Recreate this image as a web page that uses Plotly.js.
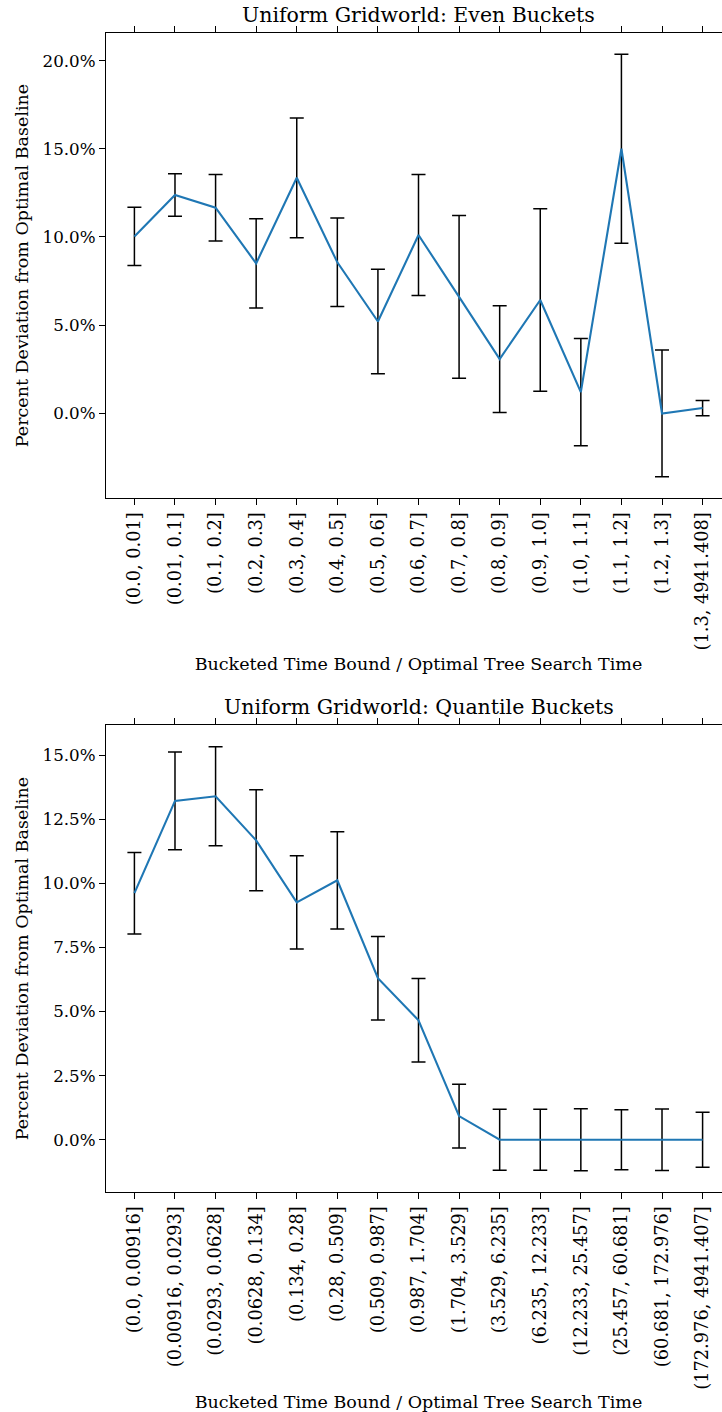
<!DOCTYPE html>
<html>
<head>
<meta charset="utf-8">
<script src="https://cdn.plot.ly/plotly-3.0.1.min.js"></script>
<style>
html, body { margin: 0; padding: 0; overflow: hidden; background: #fff; }
#chart { width: 760px; height: 1412px; }
</style>
</head>
<body>
<div id="chart"></div>
<script>
// ---- Data ----
const evenBuckets = ["(0.0, 0.01]", "(0.01, 0.1]", "(0.1, 0.2]", "(0.2, 0.3]", "(0.3, 0.4]",
  "(0.4, 0.5]", "(0.5, 0.6]", "(0.6, 0.7]", "(0.7, 0.8]", "(0.8, 0.9]", "(0.9, 1.0]",
  "(1.0, 1.1]", "(1.1, 1.2]", "(1.2, 1.3]", "(1.3, 4941.408]"];
const evenValues = [10.03, 12.38, 11.66, 8.5, 13.36, 8.56, 5.2, 10.11, 6.6, 3.07, 6.42, 1.19, 15.01, -0.02, 0.285];
const evenErrors = [1.65, 1.21, 1.89, 2.53, 3.40, 2.51, 2.97, 3.44, 4.62, 3.03, 5.18, 3.05, 5.37, 3.6, 0.435];

const quantileBuckets = ["(0.0, 0.00916]", "(0.00916, 0.0293]", "(0.0293, 0.0628]", "(0.0628, 0.134]",
  "(0.134, 0.28]", "(0.28, 0.509]", "(0.509, 0.987]", "(0.987, 1.704]", "(1.704, 3.529]",
  "(3.529, 6.235]", "(6.235, 12.233]", "(12.233, 25.457]", "(25.457, 60.681]",
  "(60.681, 172.976]", "(172.976, 4941.407]"];
const quantileValues = [9.62, 13.22, 13.4, 11.68, 9.26, 10.12, 6.3, 4.66, 0.92, 0, 0, 0, 0, 0, 0];
const quantileErrors = [1.59, 1.91, 1.93, 1.97, 1.82, 1.9, 1.63, 1.63, 1.24, 1.19, 1.19, 1.21, 1.17, 1.2, 1.07];

const chartTitles = ["Uniform Gridworld: Even Buckets", "Uniform Gridworld: Quantile Buckets"];
const xTitle = "Bucketed Time Bound / Optimal Tree Search Time";
const yTitle = "Percent Deviation from Optimal Baseline";

// ---- Styling ----
const FONT = "DejaVu Serif, serif";
const LINE_BLUE = "#1f77b4";

function idx(arr) { return arr.map((_, i) => i); }

function errTrace(cats, vals, errs, xa, ya) {
  return {
    x: idx(cats), y: vals, xaxis: xa, yaxis: ya, type: "scatter", mode: "markers",
    marker: { size: 1, color: "rgba(0,0,0,0)" },
    error_y: { type: "data", array: errs, visible: true, color: "#000", thickness: 1.5, width: 7 },
    hoverinfo: "skip", showlegend: false
  };
}
function lineTrace(cats, vals, xa, ya) {
  return {
    x: idx(cats), y: vals, xaxis: xa, yaxis: ya, type: "scatter", mode: "lines",
    line: { color: LINE_BLUE, width: 2.1 }, showlegend: false
  };
}

const traces = [
  errTrace(evenBuckets, evenValues, evenErrors, "x", "y"),
  lineTrace(evenBuckets, evenValues, "x", "y"),
  errTrace(quantileBuckets, quantileValues, quantileErrors, "x2", "y2"),
  lineTrace(quantileBuckets, quantileValues, "x2", "y2")
];

function xAxis(cats, anchor) {
  return {
    anchor: anchor, domain: [0, 1], range: [-0.7, cats.length - 1 + 0.7],
    tickmode: "array", tickvals: idx(cats), ticktext: cats, tickangle: -90,
    ticks: "outside", ticklen: 6, tickwidth: 1, tickcolor: "#000",
    showline: true, linecolor: "#000", linewidth: 1.1, mirror: "ticks",
    showgrid: false, zeroline: false,
    tickfont: { family: FONT, size: 17.8, color: "#000" },
    title: { text: xTitle, font: { family: FONT, size: 17.5, color: "#000" }, standoff: 8 },
    automargin: false
  };
}
function yAxis(range, dtick, domain, anchor) {
  return {
    anchor: anchor, domain: domain, range: range, tick0: 0, dtick: dtick,
    tickformat: ".1f", ticksuffix: "%",
    ticks: "outside", ticklen: 6, tickwidth: 1, tickcolor: "#000",
    showline: true, linecolor: "#000", linewidth: 1.1, mirror: "ticks",
    showgrid: false, zeroline: false,
    tickfont: { family: FONT, size: 16.7, color: "#000" },
    title: { text: yTitle, font: { family: FONT, size: 17.5, color: "#000" }, standoff: 9 },
    automargin: false
  };
}

const layout = {
  width: 760, height: 1412,
  margin: { l: 106, r: 28.5, t: 33, b: 220 },
  paper_bgcolor: "#fff", plot_bgcolor: "#fff",
  font: { family: FONT, color: "#000" },
  xaxis: xAxis(evenBuckets, "y"),
  yaxis: yAxis([-4.82, 21.58], 5, [0.5988, 1], "x"),
  xaxis2: xAxis(quantileBuckets, "y2"),
  yaxis2: yAxis([-2.04, 16.17], 2.5, [0, 0.4027], "x2"),
  annotations: [
    { text: chartTitles[0], xref: "paper", yref: "paper", x: 0.5, y: 1.0155,
      xanchor: "center", yanchor: "middle", showarrow: false,
      font: { family: FONT, size: 20.5, color: "#000" } },
    { text: chartTitles[1], xref: "paper", yref: "paper", x: 0.5, y: 0.4185,
      xanchor: "center", yanchor: "middle", showarrow: false,
      font: { family: FONT, size: 20.5, color: "#000" } }
  ]
};

Plotly.newPlot("chart", traces, layout, { displayModeBar: false, staticPlot: true });
</script>
</body>
</html>
